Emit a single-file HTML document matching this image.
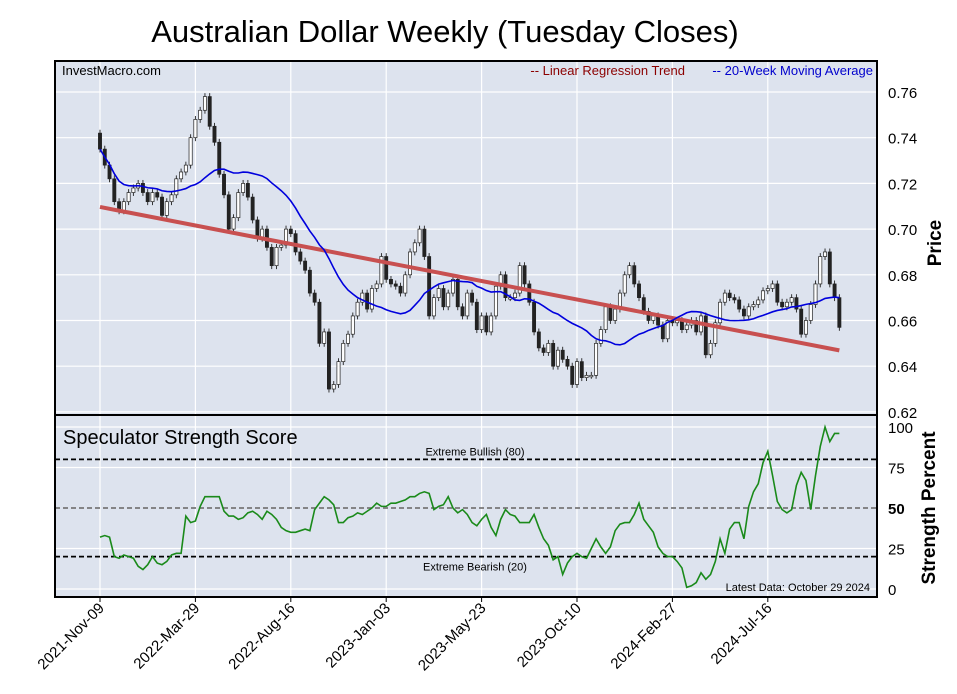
<!DOCTYPE html>
<html><head><meta charset="utf-8"><style>
body{margin:0;background:#fff;font-family:"Liberation Sans",sans-serif}
svg{display:block}
</style></head><body>
<svg id="c" width="957" height="694" xmlns="http://www.w3.org/2000/svg" font-family="Liberation Sans, sans-serif">
<text x="445" y="42" text-anchor="middle" font-size="31">Australian Dollar Weekly (Tuesday Closes)</text>
<rect x="55" y="61" width="822" height="354" fill="#dde3ee"/>
<rect x="55" y="415" width="822" height="182" fill="#dde3ee"/>
<g id="grid"></g>
<g id="marks"></g>
<rect x="55" y="61" width="822" height="354" fill="none" stroke="#000" stroke-width="2"/>
<rect x="55" y="415" width="822" height="182" fill="none" stroke="#000" stroke-width="2"/>
<text x="62" y="75" font-size="13">InvestMacro.com</text>
<text x="685" y="75" font-size="13" fill="#8b0000" text-anchor="end">-- Linear Regression Trend</text>
<text x="873" y="75" font-size="13" fill="#0000cc" text-anchor="end">-- 20-Week Moving Average</text>
<text x="63" y="444" font-size="20">Speculator Strength Score</text>
<text x="941" y="243" font-size="19" font-weight="bold" text-anchor="middle" transform="rotate(-90 941 243)">Price</text>
<text x="935" y="508" font-size="19" font-weight="bold" text-anchor="middle" transform="rotate(-90 935 508)">Strength Percent</text>
<text x="870" y="591" font-size="11" text-anchor="end">Latest Data: October 29 2024</text>
</svg>
<script>
const closes=[0.735,0.728,0.722,0.712,0.708,0.712,0.716,0.718,0.720,0.716,0.712,0.716,0.714,0.706,0.712,0.715,0.722,0.725,0.728,0.740,0.748,0.752,0.758,
0.745,0.738,0.724,0.715,0.700,0.705,0.716,0.720,0.714,0.704,0.696,0.700,0.692,0.684,0.692,0.693,0.700,0.698,0.690,0.686,0.682,0.672,0.668,
0.650,0.655,0.630,0.632,0.642,0.650,0.654,0.662,0.668,0.672,0.665,0.674,0.676,0.688,0.678,0.676,0.675,0.672,0.680,0.690,0.694,0.700,0.688,
0.662,0.670,0.674,0.666,0.672,0.678,0.666,0.662,0.672,0.668,0.656,
0.662,0.655,0.662,0.675,0.680,0.670,0.670,0.672,0.684,0.676,0.668,0.655,0.648,0.646,0.650,0.640,0.647,0.643,0.640,0.632,0.642,0.635,0.636,0.636,0.650,0.656,0.666,0.660,0.665,0.672,0.680,0.684,0.676,0.670,0.664,0.660,0.662,0.658,0.652,0.660,
0.659,0.660,0.656,0.658,0.660,0.655,0.662,0.645,0.650,0.659,0.668,0.672,0.670,0.669,0.665,0.662,0.666,0.667,0.669,0.673,0.674,0.676,0.668,0.666,0.668,0.670,0.665,0.654,0.660,0.667,0.676,0.688,0.690,0.676,0.670,0.657];
const firstOpen=0.742;
const strength=[32,33,32,20,19,21,20,19,14,12,15,20,16,15,17,21,22,22,45,41,42,51,57,57,57,57,48,45,45,43,44,47,48,46,43,48,46,43,38,36,35,35,36,37,36,49,53,57,55,52,41,41,44,45,47,46,48,50,53,51,51,53,53,54,55,57,57,59,60,59,49,51,52,57,50,47,49,46,
41,39,43,46,38,33,43,49,46,45,41,41,41,46,38,31,27,18,20,9,16,20,22,20,19,25,31,26,22,26,36,40,41,41,46,53,43,39,35,26,22,20,20,17,13,1,2,4,10,6,9,17,31,22,37,41,41,31,51,60,65,78,85,70,54,49,47,49,64,72,67,49,70,88,100,91,96,96];
const priceTicks=[0.62,0.64,0.66,0.68,0.70,0.72,0.74,0.76];
const strengthTicks=[0,25,50,75,100];
const dateLabels=["2021-Nov-09","2022-Mar-29","2022-Aug-16","2023-Jan-03","2023-May-23","2023-Oct-10","2024-Feb-27","2024-Jul-16"];
const dateIdx=[0,20,40,60,80,100,120,140];
const bullLevel=80, bearLevel=20, midLevel=50;

const NS="http://www.w3.org/2000/svg";
const xs=i=>100+i*4.77;
const yp=p=>92+(0.76-p)*2285;
const ys=v=>589-v*1.62;
function mk(tag,attrs,parent){const e=document.createElementNS(NS,tag);for(const k in attrs)e.setAttribute(k,attrs[k]);parent.appendChild(e);return e;}
const grid=document.getElementById('grid'),marks=document.getElementById('marks'),svg=document.getElementById('c');

priceTicks.forEach(t=>{
  const l=mk('line',{x1:55,x2:877,y1:yp(t),y2:yp(t),stroke:'#fff','stroke-width':1.2},grid);
  
  
  const tx=mk('text',{x:888,y:yp(t)+6,'font-size':15},svg);tx.textContent=t.toFixed(2);
  
  
});
strengthTicks.forEach(t=>{
  if(t!==midLevel){const l=mk('line',{x1:55,x2:877,y1:ys(t),y2:ys(t),stroke:'#fff','stroke-width':1.2},grid);
  
  }
  const tx=mk('text',{x:888,y:ys(t)+6,'font-size':15,'font-weight':t===midLevel?'bold':'normal'},svg);tx.textContent=t;
  
  
});
dateIdx.forEach((d,k)=>{
  const x=xs(d);
  const l=mk('line',{x1:x,x2:x,y1:61,y2:597,stroke:'#fff','stroke-width':1.2},grid);
  
  
  mk('line',{x1:x,x2:x,y1:597,y2:602,stroke:'#000'},svg);
  const tx=mk('text',{x:x+5,y:609,'font-size':15,'text-anchor':'end',transform:`rotate(-45 ${x+5} 609)`},svg);
  tx.textContent=dateLabels[k];
  
  
});
[[bullLevel,'#000','Extreme Bullish (80)',-4],[bearLevel,'#000','Extreme Bearish (20)',14],[midLevel,'#777','',0]].forEach(([v,c,lab,dy])=>{
  const l=mk('line',{x1:55,x2:877,y1:ys(v),y2:ys(v),stroke:c,'stroke-width':1.8,'stroke-dasharray':'5,3'},marks);
  
  
  if(lab){const t=mk('text',{x:475,y:ys(v)+dy,'font-size':11,'text-anchor':'middle'},marks);t.textContent=lab;
  
  }
});
const n=closes.length;
for(let i=0;i<n;i++){
  const o=i===0?firstOpen:closes[i-1], c=closes[i];
  const hi=Math.max(o,c)+0.0015, lo=Math.min(o,c)-0.0015, x=xs(i);
  const g=mk('g',{},marks);
  
  
  mk('line',{x1:x,x2:x,y1:yp(hi),y2:yp(lo),stroke:'#222','stroke-width':0.9},g);
  const top=yp(Math.max(o,c)),h=Math.max(1.5,Math.abs(yp(o)-yp(c)));
  mk('rect',{x:x-1.6,y:top,width:3.2,height:h,fill:c>=o?'#fff':'#222',stroke:'#222','stroke-width':0.7},g);
}
let sx=0,sy=0,sxy=0,sxx=0;for(let i=0;i<n;i++){sx+=i;sy+=closes[i];sxy+=i*closes[i];sxx+=i*i;}
const b=(n*sxy-sx*sy)/(n*sxx-sx*sx),a=(sy-b*sx)/n;
const reg=mk('line',{x1:xs(0),y1:yp(a),x2:xs(n-1),y2:yp(a+b*(n-1)),stroke:'#c85050','stroke-width':4},marks);


let pts=[];for(let i=0;i<n;i++){const s=Math.max(0,i-19);let m=0;for(let j=s;j<=i;j++)m+=closes[j];m/=(i-s+1);pts.push(xs(i)+','+yp(m));}
const ma=mk('polyline',{points:pts.join(' '),fill:'none',stroke:'#0000dd','stroke-width':1.6},marks);


const sl=mk('polyline',{points:strength.map((v,i)=>xs(i)+','+ys(v)).join(' '),fill:'none',stroke:'#1a8a1a','stroke-width':1.6},marks);


</script>
</body></html>
